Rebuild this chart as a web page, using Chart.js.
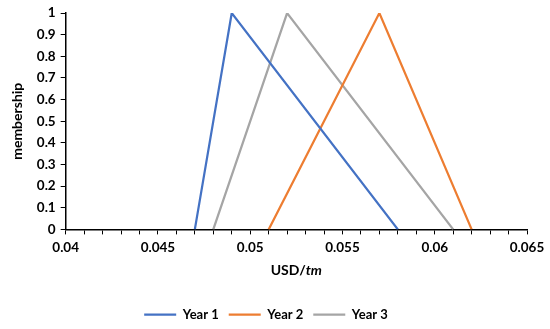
<!DOCTYPE html>
<html>
<head>
<meta charset="utf-8">
<script src="https://cdn.jsdelivr.net/npm/chart.js@4.4.1/dist/chart.umd.min.js"></script>
<style>
  html, body { margin: 0; padding: 0; background: #fff; }
  #wrap { width: 550px; height: 329px; }
</style>
</head>
<body>
<div id="wrap"><canvas id="grafica1"></canvas></div>
<script>
// valores
const seriesNames = ['Year 1', 'Year 2', 'Year 3'];
const year1X = [0.047, 0.049, 0.058];
const year1Y = [0, 1, 0];
const year2X = [0.051, 0.057, 0.062];
const year2Y = [0, 1, 0];
const year3X = [0.048, 0.052, 0.061];
const year3Y = [0, 1, 0];
const xTicks = [0.04, 0.045, 0.05, 0.055, 0.06, 0.065];
const yTicks = [0, 0.1, 0.2, 0.3, 0.4, 0.5, 0.6, 0.7, 0.8, 0.9, 1];
const colores = ['#4472C4', '#ED7D31', '#A5A5A5'];

const fuente = "Lato, 'Open Sans', sans-serif";

function puntos(xs, ys) {
    return xs.map((x, i) => ({ x: x, y: ys[i] }));
}

// titulo del eje x con "tm" en cursiva
const tituloX = {
    id: 'tituloX',
    afterDraw(chart) {
        const ctx = chart.ctx;
        const area = chart.chartArea;
        const cx = (area.left + area.right) / 2;
        const y = area.bottom + 41;
        ctx.save();
        ctx.fillStyle = '#000';
        ctx.textBaseline = 'middle';
        const f1 = 'bold 14px ' + fuente;
        const f2 = 'italic bold 14px ' + fuente;
        ctx.font = f1;
        const w1 = ctx.measureText('USD/').width;
        ctx.font = f2;
        const w2 = ctx.measureText('tm').width;
        let x = cx - (w1 + w2) / 2;
        ctx.font = f1;
        ctx.textAlign = 'left';
        ctx.fillText('USD/', x, y);
        ctx.font = f2;
        ctx.fillText('tm', x + w1, y);
        ctx.restore();
    }
};

const ctx = document.getElementById('grafica1').getContext('2d');
window.miGrafica = new Chart(ctx, {
    type: 'scatter',
    data: {
        datasets: [
            { label: seriesNames[0], data: puntos(year1X, year1Y) },
            { label: seriesNames[1], data: puntos(year2X, year2Y) },
            { label: seriesNames[2], data: puntos(year3X, year3Y) }
        ].map((d, i) => Object.assign(d, {
            showLine: true,
            borderColor: colores[i],
            backgroundColor: colores[i],
            borderWidth: 2.25,
            pointRadius: 0,
            pointHoverRadius: 0,
            tension: 0
        }))
    },
    options: {
        responsive: true,
        maintainAspectRatio: false,
        animation: false,
        layout: { padding: { top: 9, right: 23, left: 5, bottom: -2 } },
        plugins: {
            legend: {
                position: 'bottom',
                labels: {
                    usePointStyle: true,
                    pointStyle: 'line',
                    pointStyleWidth: 32,
                    boxHeight: 2,
                    padding: 10,
                    color: '#000',
                    font: { family: fuente, size: 13, weight: 'bold' }
                }
            },
            tooltip: { enabled: false }
        },
        scales: {
            x: {
                type: 'linear',
                min: 0.04,
                max: 0.065,
                afterBuildTicks(scale) {
                    // marcas menores cada 0.001
                    const t = [];
                    for (let i = 0; i <= 25; i++) t.push({ value: 0.04 + i * 0.001 });
                    scale.ticks = t;
                },
                ticks: {
                    autoSkip: false,
                    maxRotation: 0,
                    color: '#000',
                    padding: 5,
                    font: { family: fuente, size: 13.5, weight: 'bold' },
                    callback: function (v) {
                        const m = xTicks.find(t => Math.abs(t - v) < 1e-6);
                        return m !== undefined ? String(m) : '';
                    }
                },
                grid: { drawOnChartArea: false, tickLength: 5, color: '#000', lineWidth: 1 },
                border: { color: '#000', width: 1.5 },
                title: { display: true, text: ' ', padding: { top: 4, bottom: 19 } }
            },
            y: {
                min: 0,
                max: 1,
                afterBuildTicks(scale) {
                    scale.ticks = yTicks.map(v => ({ value: v }));
                },
                ticks: {
                    color: '#000',
                    padding: 5,
                    font: { family: fuente, size: 13.5, weight: 'bold' },
                    callback: v => String(parseFloat(v.toFixed(1)))
                },
                grid: { drawOnChartArea: false, tickLength: 5, color: '#000', lineWidth: 1 },
                border: { color: '#000', width: 1.5 },
                title: {
                    display: true,
                    text: 'membership',
                    color: '#000',
                    padding: { bottom: 6 },
                    font: { family: fuente, size: 14, weight: 'bold' }
                }
            }
        }
    },
    plugins: [tituloX]
});
</script>
</body>
</html>
